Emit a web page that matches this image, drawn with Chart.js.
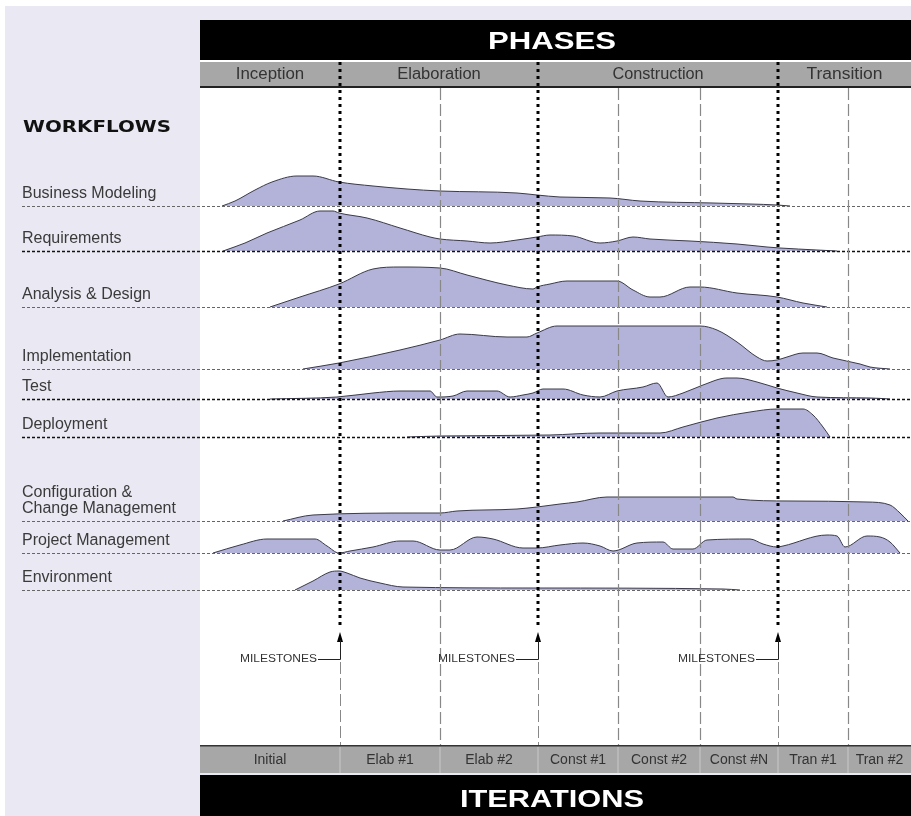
<!DOCTYPE html>
<html>
<head>
<meta charset="utf-8">
<script src="https://cdn.jsdelivr.net/npm/chart.js@4.4.0/dist/chart.umd.min.js"></script>
<style>
  html, body { margin: 0; padding: 0; background: #fff; }
  canvas { display: block; }
</style>
</head>
<body>
<canvas id="rup" width="911" height="816"></canvas>
<script>
// time runs 0..711 across the project
const iterations = ['Initial', 'Elab #1', 'Elab #2', 'Const #1', 'Const #2', 'Const #N', 'Tran #1', 'Tran #2'];
const iterationEnds = [140, 240, 338, 418, 500, 578, 648, 711];
const phases = ['Inception', 'Elaboration', 'Construction', 'Transition'];
const phaseEnds = [140, 338, 578, 711];
const workflows = ['Business Modeling', 'Requirements', 'Analysis & Design', 'Implementation', 'Test',
  'Deployment', 'Configuration &\nChange Management', 'Project Management', 'Environment'];

// effort over time, [time, effort]
const businessModeling = [[22,0],[35,5],[55,16],[72,24],[97,30],[113,30],[139,24],[173,20],[207,17],[240,15],[317,13],[337,11],[360,9],[410,8],[440,5],[513,3],[550,2],[577,1],[590,0]];
const requirements = [[23,0],[45,8],[67,18],[100,31],[120,40],[133,40],[139,38],[167,33],[200,23],[230,14],[240,12],[267,10],[290,8],[317,11],[337,14],[350,16],[373,15],[400,8],[417,10],[433,14],[450,12],[490,10],[537,7],[567,4],[580,3],[617,1],[637,0]];
const analysisDesign = [[70,0],[100,10],[139,23],[173,38],[200,40],[240,39],[267,32],[307,22],[333,18],[337,20],[350,23],[367,26],[417,26],[433,17],[450,10],[460,10],[490,20],[500,20],[537,14],[577,10],[603,4],[627,0]];
const implementation = [[103,0],[139,6],[200,19],[240,29],[260,35],[307,32],[327,32],[337,36],[357,43],[500,43],[517,39],[537,27],[557,12],[567,8],[577,9],[587,12],[603,16],[617,16],[633,11],[660,5],[670,2],[690,0]];
const test = [[70,0],[137,2],[173,6],[200,8],[230,8],[237,2],[253,3],[267,8],[297,8],[310,2],[323,4],[333,6],[343,10],[363,10],[383,4],[400,2],[417,8],[443,12],[457,16],[468,2],[483,6],[503,14],[527,21],[537,21],[557,17],[577,11],[597,6],[617,2],[670,1],[690,0]];
const deployment = [[207,0],[240,1],[350,2],[400,4],[460,4],[483,10],[517,19],[550,25],[577,28],[603,28],[613,22],[623,10],[630,0]];
const configChange = [[83,0],[113,6],[217,8],[240,8],[257,10],[317,12],[337,14],[360,17],[377,19],[407,24],[533,24],[537,22],[590,20],[667,19],[690,16],[700,8],[708,0]];
const projectMgmt = [[13,0],[40,8],[67,14],[115,14],[127,7],[139,0],[150,2],[173,6],[200,12],[213,12],[240,3],[250,3],[277,16],[293,14],[323,5],[337,5],[360,8],[383,10],[400,7],[413,2],[437,10],[463,11],[473,4],[493,4],[507,13],[550,14],[563,9],[577,6],[583,7],[627,18],[637,17],[645,6],[667,17],[680,16],[690,11],[700,0]];
const environment = [[95,0],[113,9],[130,18],[139,19],[147,17],[160,12],[180,7],[203,3],[333,2],[523,1],[540,0]];

const curves = [businessModeling, requirements, analysisDesign, implementation, test,
  deployment, configChange, projectMgmt, environment];

// layout: where each workflow row sits on the vertical scale (0..657)
const rowBase = [539, 494, 438, 376, 346, 308, 224, 192, 155];
// rows whose base line is drawn darker in the original
const darkRows = [1, 4, 5];

const SANS = '"Liberation Sans", Arial, sans-serif';

function fitText(ctx, text, x, y, font, width, align) {
  ctx.font = font;
  const s = width / ctx.measureText(text).width;
  ctx.save();
  ctx.translate(x, y);
  ctx.scale(s, 1);
  ctx.textAlign = align;
  ctx.textBaseline = 'middle';
  ctx.fillText(text, 0, 0);
  ctx.restore();
}

function vline(ctx, px, y0, y1, color, width, dash) {
  ctx.beginPath();
  ctx.strokeStyle = color;
  ctx.lineWidth = width;
  ctx.setLineDash(dash);
  ctx.moveTo(px, y0);
  ctx.lineTo(px, y1);
  ctx.stroke();
}

const frame = {
  id: 'frame',
  beforeDraw(chart) {
    const { ctx, chartArea: a, scales: { x, y } } = chart;
    ctx.save();
    ctx.fillStyle = '#fff';
    ctx.fillRect(0, 0, chart.width, chart.height);
    ctx.fillStyle = '#eae8f2';
    ctx.fillRect(5, 6, chart.width - 5, chart.height - 6);
    ctx.fillStyle = '#fff';
    ctx.fillRect(a.left, 60, a.right - a.left, a.bottom - 60);

    // phases header
    ctx.fillStyle = '#000';
    ctx.fillRect(a.left, 20, a.right - a.left, 40);
    ctx.fillStyle = '#a7a7a7';
    ctx.fillRect(a.left, 62, a.right - a.left, 26);
    ctx.fillStyle = '#222';
    ctx.fillRect(a.left, 86, a.right - a.left, 2);
    ctx.fillStyle = '#fff';
    fitText(ctx, 'PHASES', 552, 42, 'bold 24px ' + SANS, 128, 'center');
    ctx.fillStyle = '#333';
    let start = 0;
    phases.forEach((p, i) => {
      const c = (x.getPixelForValue(start) + x.getPixelForValue(phaseEnds[i])) / 2;
      fitText(ctx, p, c, 75, '16px ' + SANS, p.length * 7.6, 'center');
      start = phaseEnds[i];
    });

    // iterations footer
    ctx.fillStyle = '#a7a7a7';
    ctx.fillRect(a.left, a.bottom, a.right - a.left, 28);
    ctx.fillStyle = '#333';
    ctx.fillRect(a.left, a.bottom, a.right - a.left, 1.5);
    ctx.fillStyle = '#000';
    ctx.fillRect(a.left, a.bottom + 30, a.right - a.left, chart.height - a.bottom - 30);
    ctx.fillStyle = '#fff';
    fitText(ctx, 'ITERATIONS', 552, 800, 'bold 24px ' + SANS, 184, 'center');
    start = 0;
    iterations.forEach((it, i) => {
      const l = x.getPixelForValue(start), r = x.getPixelForValue(iterationEnds[i]);
      if (i < iterations.length - 1) vline(ctx, r, a.bottom + 2, a.bottom + 28, '#c9c9c9', 1, []);
      ctx.fillStyle = '#333';
      ctx.font = '14px ' + SANS;
      ctx.textAlign = 'center';
      ctx.textBaseline = 'middle';
      ctx.fillText(it, (l + r) / 2, a.bottom + 15);
      start = iterationEnds[i];
    });

    // workflow labels
    ctx.fillStyle = '#111';
    fitText(ctx, 'WORKFLOWS', 23, 128, 'bold 15px "DejaVu Sans", sans-serif', 148, 'left');
    ctx.fillStyle = '#3a3a3a';
    ctx.font = '16px ' + SANS;
    ctx.textAlign = 'left';
    ctx.textBaseline = 'middle';
    workflows.forEach((w, i) => {
      const lines = w.split('\n');
      const py = y.getPixelForValue(rowBase[i]) - 12;
      lines.forEach((t, k) => ctx.fillText(t, 22, py - (lines.length - 1 - k) * 16));
    });
    ctx.restore();
  },
  afterDatasetsDraw(chart) {
    const { ctx, chartArea: a, scales: { x, y } } = chart;
    ctx.save();
    // row baselines
    rowBase.forEach((b, i) => {
      const dark = darkRows.includes(i);
      const py = Math.round(y.getPixelForValue(b)) + 0.5;
      ctx.beginPath();
      ctx.strokeStyle = dark ? '#111' : '#666';
      ctx.lineWidth = dark ? 1.6 : 1;
      ctx.setLineDash([3, 2]);
      ctx.moveTo(22, py);
      ctx.lineTo(a.right, py);
      ctx.stroke();
    });
    // iteration boundaries
    const milestones = phaseEnds.slice(0, 3);
    iterationEnds.slice(0, -1).forEach(t => {
      const px = Math.round(x.getPixelForValue(t)) + 0.5;
      if (milestones.includes(t)) {
        vline(ctx, px, 662, a.bottom, '#888', 1, [12, 4]);
      } else {
        vline(ctx, px, a.top, a.bottom, '#888', 1.2, [12, 4]);
      }
    });
    // milestones
    milestones.forEach(t => {
      const px = Math.round(x.getPixelForValue(t));
      vline(ctx, px, 62, 628, '#000', 3, [3, 4]);
      ctx.setLineDash([]);
      ctx.fillStyle = '#000';
      ctx.beginPath();
      ctx.moveTo(px, 632);
      ctx.lineTo(px - 3, 642);
      ctx.lineTo(px + 3, 642);
      ctx.closePath();
      ctx.fill();
      ctx.beginPath();
      ctx.strokeStyle = '#222';
      ctx.lineWidth = 1;
      ctx.moveTo(px + 0.5, 640);
      ctx.lineTo(px + 0.5, 659.5);
      ctx.lineTo(px - 22, 659.5);
      ctx.stroke();
      ctx.fillStyle = '#333';
      fitText(ctx, 'MILESTONES', px - 23, 659, '10px ' + SANS, 77, 'right');
    });
    ctx.restore();
  }
};

new Chart(document.getElementById('rup'), {
  type: 'line',
  data: {
    datasets: curves.map((c, i) => ({
      label: workflows[i],
      data: c.map(([t, e]) => ({ x: t, y: rowBase[i] + e })),
      fill: { value: rowBase[i] },
      backgroundColor: '#b3b3d9',
      borderColor: '#3a3a4a',
      borderWidth: 1,
      pointRadius: 0,
      cubicInterpolationMode: 'monotone'
    }))
  },
  options: {
    responsive: false,
    animation: false,
    layout: { padding: { left: 200, right: 0, top: 88, bottom: 71 } },
    plugins: { legend: { display: false }, tooltip: { enabled: false } },
    scales: {
      x: { type: 'linear', min: 0, max: 711, display: false },
      y: { type: 'linear', min: 0, max: 657, display: false }
    }
  },
  plugins: [frame]
});
</script>
</body>
</html>
